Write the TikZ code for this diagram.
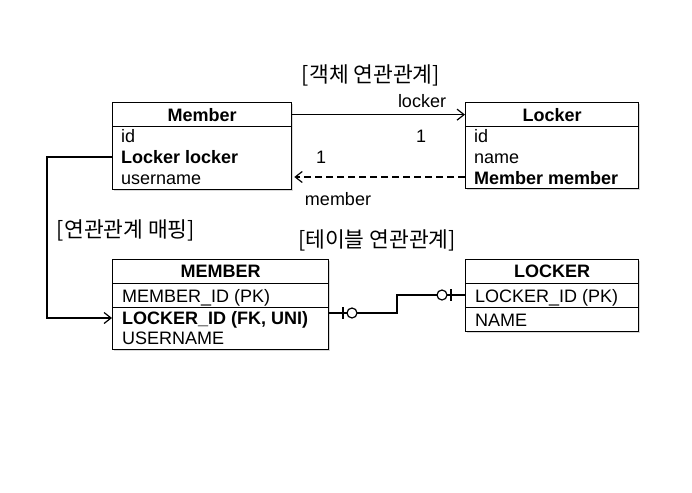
\documentclass[tikz,border=0pt]{standalone}
\usepackage{fontspec}
\setmainfont{Liberation Sans}
\newfontfamily\kr{Noto Sans CJK KR}
\usetikzlibrary{arrows.meta,shadows}

\tikzset{
  tbl/.style={draw, line width=1.3pt, fill=white, inner sep=0pt, anchor=north west,
    drop shadow={shadow xshift=1.5pt, shadow yshift=-1.5pt, opacity=0.3}},
  cell/.style={draw, line width=1.3pt, inner sep=0pt, anchor=north west},
  hdr/.style={font=\fontsize{18}{20}\selectfont\bfseries},
  fld/.style={anchor=base west, inner sep=0pt, font=\fontsize{18}{20}\selectfont},
  bfld/.style={fld, font=\fontsize{18}{20}\selectfont\bfseries},
  lbl/.style={anchor=base, inner sep=0pt, font=\fontsize{18}{20}\selectfont},
  krlbl/.style={inner sep=0pt, font=\kr\fontsize{21.5}{24}\selectfont},
  arr/.style={line width=1.2pt, -{Straight Barb[length=7pt,width=11pt]}},
  link/.style={line width=1.2pt},
  erc/.style={circle, draw, line width=1.2pt, fill=white, inner sep=0pt, minimum size=10pt},
}

\begin{document}
\begin{tikzpicture}[x=1pt, y=-1pt]
  \useasboundingbox (0,0) rectangle (692,492);

  % object model
  \node[krlbl] (objTitle) at (371,75) {[객체 연관관계]};

  \node[tbl, minimum width=179, minimum height=87] (member) at (112,102) {};
  \node[cell, hdr, minimum width=179, minimum height=24] (memberH) at (112,102) {Member};
  \node[fld] (memberId) at (121,142) {id};
  \node[bfld] (memberLocker) at (121,163) {Locker locker};
  \node[fld] (memberName) at (121,184) {username};

  \node[tbl, minimum width=173, minimum height=86] (locker) at (465,102) {};
  \node[cell, hdr, minimum width=173, minimum height=24] (lockerH) at (465,102) {Locker};
  \node[fld] (lockerId) at (474,142) {id};
  \node[fld] (lockerName) at (474,163) {name};
  \node[bfld] (lockerMember) at (474,184) {Member member};

  \draw[arr] (memberH.east) -- (lockerH.west);
  \node[lbl] (lockerRole) at (422,107) {locker};
  \node[lbl] (lockerOne) at (421,142) {1};
  \draw[arr, dashed, dash pattern=on 7pt off 4pt, shorten >=2pt] (locker.west |- 0,177) -- (member.east |- 0,177);
  \node[lbl] (memberOne) at (321,163) {1};
  \node[lbl] (memberRole) at (338,205) {member};

  % mapping
  \node[krlbl] (mapTitle) at (126,230) {[연관관계 매핑]};
  \coordinate (mapCorner) at (47,157);

  % table model
  \node[krlbl] (tblTitle) at (377,240) {[테이블 연관관계]};

  \node[tbl, minimum width=216, minimum height=90] (MEMBER) at (112,259) {};
  \node[cell, hdr, minimum width=216, minimum height=24] (MEMBERH) at (112,259) {MEMBER};
  \node[cell, minimum width=216, minimum height=24] (MEMBERPK) at (112,283) {};
  \node[fld] (MEMBERId) at (122,302) {MEMBER\_ID (PK)};
  \node[bfld] (MEMBERFk) at (122,324) {LOCKER\_ID (FK, UNI)};
  \node[fld] (MEMBERName) at (122,344) {USERNAME};

  \node[tbl, minimum width=173, minimum height=72] (LOCKER) at (465,259) {};
  \node[cell, hdr, minimum width=173, minimum height=24] (LOCKERH) at (465,259) {LOCKER};
  \node[cell, minimum width=173, minimum height=24] (LOCKERPK) at (465,283) {};
  \node[fld] (LOCKERId) at (475,302) {LOCKER\_ID (PK)};
  \node[fld] (LOCKERName) at (475,326) {NAME};

  \draw[arr] (member.west |- 0,157) -- (mapCorner) |- (MEMBER.west |- 0,318);

  \coordinate (fkEnd) at (MEMBER.east |- 0,313);
  \coordinate (pkEnd) at (LOCKER.west |- 0,295);
  \draw[link] (fkEnd) -- (397,313) -- (397,295) -- (pkEnd);
  \node[erc] (fkCircle) at (352,313) {};
  \node[erc] (pkCircle) at (442,295) {};
  \draw[link] (343,307) -- (343,319);
  \draw[link] (451,289) -- (451,301);
\end{tikzpicture}
\end{document}
